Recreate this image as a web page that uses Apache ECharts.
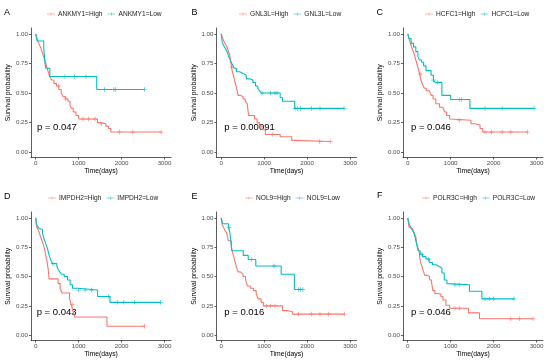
<!DOCTYPE html>
<html>
<head>
<meta charset="utf-8">
<script src="https://cdn.jsdelivr.net/npm/echarts@6/dist/echarts.min.js"></script>
<style>html,body{margin:0;padding:0;background:#fff}#chart{width:550px;height:363px}</style>
</head>
<body>
<div id="chart"></div>
<script>
// ---------- data ----------
const panelLetters = ['A', 'B', 'C', 'D', 'E', 'F'];
const genes = ['ANKMY1', 'GNL3L', 'HCFC1', 'IMPDH2', 'NOL9', 'POLR3C'];
const pValues = ['p = 0.047', 'p = 0.00091', 'p = 0.046', 'p = 0.043', 'p = 0.016', 'p = 0.046'];
const xTicks = [0, 1000, 2000, 3000];
const yTicks = [0, 0.25, 0.5, 0.75, 1];

// A: ANKMY1
const ankmy1HighTime = [0, 31, 70, 109, 148, 172, 203, 234, 266, 297, 328, 367, 422, 484, 539, 594, 640, 695, 750, 797, 828, 875, 937, 1000, 1437, 1515, 1632, 1695, 1750, 2920];
const ankmy1HighSurv = [1, 0.96, 0.92, 0.89, 0.85, 0.82, 0.79, 0.75, 0.71, 0.67, 0.64, 0.61, 0.58, 0.56, 0.53, 0.50, 0.47, 0.45, 0.43, 0.40, 0.37, 0.34, 0.31, 0.28, 0.25, 0.24, 0.22, 0.20, 0.17, 0.17];
const ankmy1HighCensor = [530, 700, 1100, 1230, 1380, 1530, 1950, 2260, 2920];
const ankmy1LowTime = [0, 30, 187, 200, 215, 230, 328, 1421, 2530];
const ankmy1LowSurv = [1, 0.94, 0.88, 0.82, 0.76, 0.71, 0.64, 0.53, 0.53];
const ankmy1LowCensor = [680, 900, 1170, 1600, 1820, 1860, 2530];

// B: GNL3L
const gnl3lHighTime = [0, 46, 84, 123, 161, 199, 222, 238, 261, 291, 314, 353, 391, 445, 506, 560, 606, 637, 775, 836, 890, 951, 1028, 1373, 1641, 1695, 2539];
const gnl3lHighSurv = [1, 0.95, 0.92, 0.90, 0.86, 0.82, 0.76, 0.72, 0.68, 0.64, 0.60, 0.55, 0.48, 0.47, 0.45, 0.43, 0.41, 0.31, 0.28, 0.25, 0.22, 0.19, 0.15, 0.13, 0.10, 0.09, 0.09];
const gnl3lHighCensor = [250, 1200, 2290, 2539];
const gnl3lLowTime = [0, 23, 61, 107, 146, 184, 222, 261, 299, 353, 430, 506, 583, 660, 736, 798, 851, 890, 936, 1373, 1427, 1710, 2861];
const gnl3lLowSurv = [1, 0.93, 0.90, 0.87, 0.84, 0.80, 0.77, 0.74, 0.71, 0.68, 0.665, 0.65, 0.62, 0.61, 0.59, 0.56, 0.54, 0.52, 0.50, 0.46, 0.43, 0.37, 0.37];
const gnl3lLowCensor = [950, 1150, 1250, 1300, 1720, 1780, 1850, 2100, 2300, 2861];

// C: HCFC1
const hcfc1HighTime = [0, 39, 71, 110, 150, 181, 212, 244, 275, 307, 346, 386, 433, 504, 543, 590, 653, 740, 818, 858, 905, 976, 1015, 1472, 1566, 1684, 1747, 2786];
const hcfc1HighSurv = [1, 0.95, 0.91, 0.87, 0.83, 0.79, 0.75, 0.71, 0.66, 0.61, 0.57, 0.54, 0.52, 0.51, 0.48, 0.45, 0.41, 0.38, 0.37, 0.34, 0.31, 0.28, 0.27, 0.24, 0.23, 0.20, 0.17, 0.17];
const hcfc1HighCensor = [300, 1200, 1800, 1950, 2200, 2400, 2786];
const hcfc1LowTime = [0, 31, 79, 134, 189, 236, 275, 323, 370, 425, 543, 598, 637, 795, 999, 1448, 2943];
const hcfc1LowSurv = [1, 0.96, 0.92, 0.89, 0.85, 0.81, 0.78, 0.76, 0.73, 0.69, 0.65, 0.61, 0.59, 0.48, 0.445, 0.37, 0.37];
const hcfc1LowCensor = [600, 700, 1200, 1250, 1800, 2200, 2943];

// D: IMPDH2
const impdh2HighTime = [0, 23, 55, 93, 132, 171, 203, 234, 265, 288, 312, 522, 569, 608, 787, 826, 865, 911, 1659, 2532];
const impdh2HighSurv = [1, 0.92, 0.90, 0.86, 0.82, 0.78, 0.74, 0.68, 0.625, 0.57, 0.48, 0.44, 0.40, 0.36, 0.31, 0.26, 0.21, 0.155, 0.077, 0.077];
const impdh2HighCensor = [850, 2532];
const impdh2LowTime = [0, 16, 39, 78, 117, 156, 195, 234, 273, 312, 351, 390, 491, 522, 561, 600, 662, 740, 802, 857, 974, 1441, 1729, 2906];
const impdh2LowSurv = [1, 0.95, 0.93, 0.91, 0.90, 0.87, 0.82, 0.78, 0.74, 0.68, 0.64, 0.61, 0.59, 0.56, 0.54, 0.52, 0.50, 0.47, 0.43, 0.40, 0.385, 0.33, 0.28, 0.28];
const impdh2LowCensor = [400, 1000, 1150, 1300, 1700, 1900, 2050, 2300, 2906];

// E: NOL9
const nol9HighTime = [0, 23, 54, 92, 130, 161, 199, 238, 261, 291, 322, 353, 391, 445, 506, 568, 606, 675, 752, 813, 859, 928, 982, 1427, 1542, 1657, 2869];
const nol9HighSurv = [1, 0.94, 0.92, 0.89, 0.87, 0.81, 0.80, 0.75, 0.71, 0.67, 0.625, 0.58, 0.54, 0.525, 0.50, 0.47, 0.42, 0.40, 0.38, 0.355, 0.31, 0.28, 0.25, 0.21, 0.20, 0.18, 0.18];
const nol9HighCensor = [1050, 1150, 1250, 1800, 2100, 2300, 2500, 2869];
const nol9LowTime = [0, 31, 169, 199, 222, 245, 514, 629, 805, 1396, 1703, 1902];
const nol9LowSurv = [1, 0.95, 0.92, 0.88, 0.81, 0.72, 0.68, 0.645, 0.59, 0.52, 0.39, 0.39];
const nol9LowCensor = [180, 700, 1230, 1800, 1850, 1902];

// F: POLR3C
const polr3cHighTime = [0, 31, 70, 109, 148, 187, 211, 242, 266, 289, 320, 359, 398, 461, 508, 555, 586, 633, 711, 773, 820, 890, 976, 1414, 1671, 2921];
const polr3cHighSurv = [1, 0.92, 0.91, 0.895, 0.87, 0.84, 0.78, 0.74, 0.71, 0.64, 0.60, 0.55, 0.51, 0.50, 0.47, 0.45, 0.38, 0.355, 0.35, 0.33, 0.30, 0.255, 0.23, 0.19, 0.14, 0.14];
const polr3cHighCensor = [1100, 1200, 2400, 2600, 2921];
const polr3cLowTime = [0, 31, 70, 109, 148, 180, 211, 242, 289, 344, 422, 500, 578, 656, 734, 797, 851, 914, 953, 1437, 1726, 2476];
const polr3cLowSurv = [1, 0.95, 0.92, 0.895, 0.87, 0.82, 0.77, 0.72, 0.69, 0.67, 0.65, 0.62, 0.60, 0.585, 0.57, 0.53, 0.47, 0.44, 0.43, 0.375, 0.31, 0.31];
const polr3cLowCensor = [330, 480, 1100, 1200, 1800, 1900, 2000, 2476];

const highCurves = [
  [ankmy1HighTime, ankmy1HighSurv, ankmy1HighCensor],
  [gnl3lHighTime, gnl3lHighSurv, gnl3lHighCensor],
  [hcfc1HighTime, hcfc1HighSurv, hcfc1HighCensor],
  [impdh2HighTime, impdh2HighSurv, impdh2HighCensor],
  [nol9HighTime, nol9HighSurv, nol9HighCensor],
  [polr3cHighTime, polr3cHighSurv, polr3cHighCensor]
];
const lowCurves = [
  [ankmy1LowTime, ankmy1LowSurv, ankmy1LowCensor],
  [gnl3lLowTime, gnl3lLowSurv, gnl3lLowCensor],
  [hcfc1LowTime, hcfc1LowSurv, hcfc1LowCensor],
  [impdh2LowTime, impdh2LowSurv, impdh2LowCensor],
  [nol9LowTime, nol9LowSurv, nol9LowCensor],
  [polr3cLowTime, polr3cLowSurv, polr3cLowCensor]
];

// ---------- layout / style ----------
const RED = '#F8766D', TEAL = '#00BFC4';
const FONT = 'Liberation Sans, Arial, sans-serif';
const colLeft = [31, 216.5, 403];
const rowTop = [28, 212];
const rowHeight = [129.5, 128.5];
const gridWidth = 140;
const legendLeft = [47, 239, 425, 48, 245, 422];
const legendTop = [10.5, 194.5];
const pPos = [[37, 128], [224.3, 128], [411, 128], [36.7, 312.7], [224.3, 313.3], [411, 312.7]];
const letterPos = [[4, 13.3], [191.5, 13.3], [376.5, 13.3], [4, 196.7], [191.5, 196.7], [377, 196]];
const plusPath = 'path://M-0.5,-3H0.5V-0.5H3V0.5H0.5V3H-0.5V0.5H-3V-0.5H-0.5Z';
const legendIcon = 'path://M0,2.5H16V3.5H0Z M7.5,0H8.5V6H7.5Z';

function stepData(t, s) { return t.map((v, i) => [v, s[i]]); }
function censorData(t, s, c) {
  return c.map(ct => {
    let k = 0;
    for (let i = 0; i < t.length; i++) if (t[i] <= ct) k = i;
    return [ct, s[k]];
  });
}

const grids = [], xAxes = [], yAxes = [], series = [], legends = [], graphics = [];
for (let i = 0; i < 6; i++) {
  const col = i % 3, row = Math.floor(i / 3);
  grids.push({ left: colLeft[col], top: rowTop[row], width: gridWidth, height: rowHeight[row] });
  xAxes.push({
    type: 'value', gridIndex: i, min: -110, max: 3150,
    name: 'Time(days)', nameLocation: 'middle', nameGap: 9,
    nameTextStyle: { fontSize: 6.8, color: '#000', fontFamily: FONT },
    axisLine: { onZero: false, lineStyle: { color: '#333', width: 0.8 } },
    axisTick: { customValues: xTicks, length: 2, lineStyle: { color: '#333', width: 0.8 } },
    axisLabel: { customValues: xTicks, fontSize: 6.2, color: '#4d4d4d', margin: 3, fontFamily: FONT,
      formatter: v => String(v) },
    splitLine: { show: false }
  });
  yAxes.push({
    type: 'value', gridIndex: i, min: -0.045, max: 1.05,
    name: 'Survival probability', nameLocation: 'middle', nameGap: 19,
    nameTextStyle: { fontSize: 6.8, color: '#000', fontFamily: FONT },
    axisLine: { onZero: false, lineStyle: { color: '#333', width: 0.8 } },
    axisTick: { customValues: yTicks, length: 2, lineStyle: { color: '#333', width: 0.8 } },
    axisLabel: { customValues: yTicks, fontSize: 6.2, color: '#4d4d4d', margin: 3, fontFamily: FONT,
      formatter: v => v.toFixed(2) },
    splitLine: { show: false }
  });
  const groups = [[highCurves[i], genes[i] + '=High', RED], [lowCurves[i], genes[i] + '=Low', TEAL]];
  groups.forEach(([curve, name, color]) => {
    series.push({
      type: 'line', name, xAxisIndex: i, yAxisIndex: i, step: 'end', showSymbol: false,
      data: stepData(curve[0], curve[1]), lineStyle: { color, width: 1.1 }, itemStyle: { color },
      silent: true, z: 2
    });
    series.push({
      type: 'scatter', name, xAxisIndex: i, yAxisIndex: i, symbol: plusPath, symbolSize: 4.5,
      data: censorData(curve[0], curve[1], curve[2]), itemStyle: { color }, silent: true, z: 3
    });
  });
  legends.push({
    data: [{ name: genes[i] + '=High', icon: legendIcon }, { name: genes[i] + '=Low', icon: legendIcon }],
    left: legendLeft[i], top: legendTop[row], itemWidth: 8, itemHeight: 5, itemGap: 5,
    padding: 0, selectedMode: false,
    textStyle: { fontSize: 6.6, color: '#222', fontFamily: FONT, padding: [0, 0, 0, -2] }
  });
  graphics.push({
    type: 'text', left: pPos[i][0], top: pPos[i][1] - 5.5,
    style: { text: pValues[i], fontSize: 9.5, fill: '#000', fontFamily: FONT }
  });
  graphics.push({
    type: 'text', left: letterPos[i][0], top: letterPos[i][1] - 5,
    style: { text: panelLetters[i], fontSize: 9, fill: '#000', fontFamily: FONT }
  });
}

const chart = echarts.init(document.getElementById('chart'), null, { renderer: 'canvas' });
chart.setOption({
  animation: false,
  backgroundColor: '#fff',
  grid: grids, xAxis: xAxes, yAxis: yAxes, series, legend: legends, graphic: graphics
});
</script>
</body>
</html>
